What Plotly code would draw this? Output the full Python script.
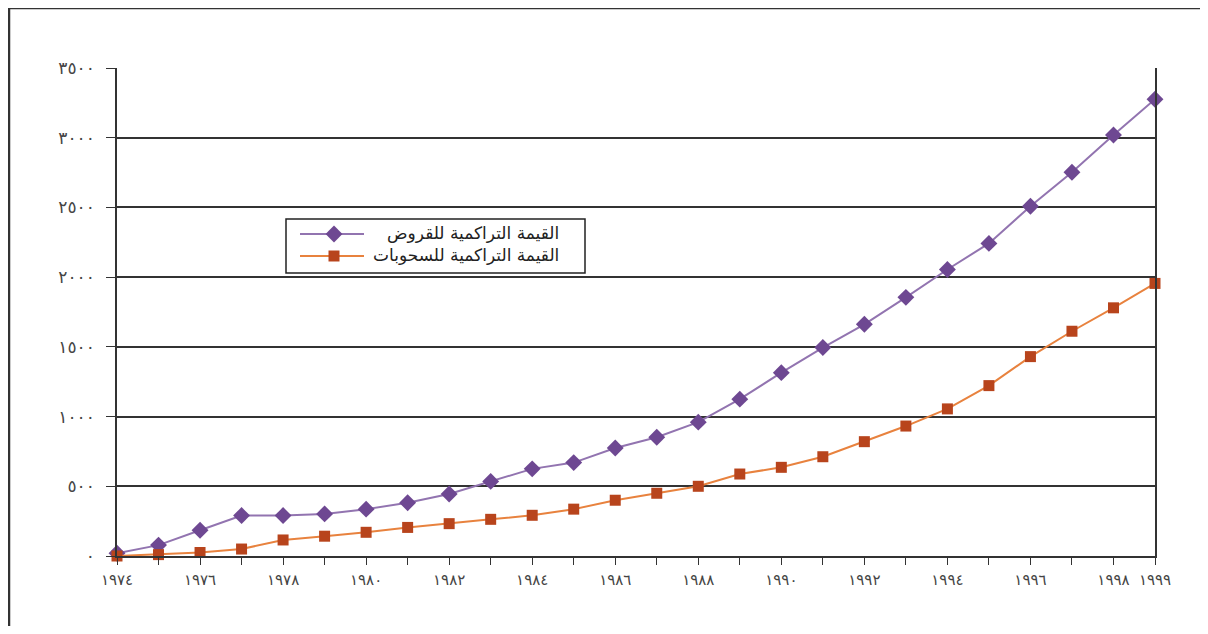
import plotly.graph_objects as go

years = list(range(1974, 2000))
loans = [20, 78, 185, 290, 290, 302, 336, 382, 445, 535, 625, 670, 775, 852,
         960, 1125, 1315, 1495, 1662, 1855, 2055, 2242, 2508, 2752, 3020, 3276]
draws = [0, 10, 25, 50, 115, 142, 170, 205, 232, 263, 292, 336, 400, 450,
         500, 588, 636, 712, 820, 932, 1055, 1222, 1430, 1612, 1780, 1955]

loans_name = "القيمة التراكمية للقروض"
draws_name = "القيمة التراكمية للسحوبات"

x_tickvals = [1974, 1976, 1978, 1980, 1982, 1984, 1986, 1988, 1990, 1992, 1994, 1996, 1998, 1999]
y_tickvals = [0, 500, 1000, 1500, 2000, 2500, 3000, 3500]

AR = str.maketrans("0123456789", "٠١٢٣٤٥٦٧٨٩")
def ar(n):
    return str(n).translate(AR)

OFF = 8                      # page body margin
W, H = 1208 - 2 * OFF, 634 - 2 * OFF
L, R, T, B = 117, 1155, 68, 556   # absolute plot-area pixels in the window

PURPLE_LINE = "#9274b0"
PURPLE_MK = "#6e4892"
ORANGE_LINE = "#e8823e"
ORANGE_MK = "#b8441c"
FONT = "DejaVu Sans"

def px(xa):
    return (xa - L) / (R - L)

def py(ya):
    return (B - ya) / (B - T)

fig = go.Figure()
fig.add_trace(go.Scatter(
    x=years, y=loans, mode="lines+markers", name=loans_name,
    line=dict(color=PURPLE_LINE, width=2),
    marker=dict(symbol="diamond", size=13, color=PURPLE_MK),
    cliponaxis=False, showlegend=False))
fig.add_trace(go.Scatter(
    x=years, y=draws, mode="lines+markers", name=draws_name,
    line=dict(color=ORANGE_LINE, width=2),
    marker=dict(symbol="square", size=11, color=ORANGE_MK),
    cliponaxis=False, showlegend=False))

# legend keys (overlay axis mapped to window pixels)
leg_keys = [
    (234, PURPLE_LINE, PURPLE_MK, "diamond", 13),
    (256, ORANGE_LINE, ORANGE_MK, "square", 11),
]
for yk, lc, mc, sym, sz in leg_keys:
    fig.add_trace(go.Scatter(
        x=[300, 364], y=[yk, yk], mode="lines",
        line=dict(color=lc, width=2),
        xaxis="x2", yaxis="y2", showlegend=False, hoverinfo="skip",
        cliponaxis=False))
    fig.add_trace(go.Scatter(
        x=[334], y=[yk], mode="markers",
        marker=dict(symbol=sym, size=sz, color=mc, opacity=1),
        xaxis="x2", yaxis="y2", showlegend=False, hoverinfo="skip",
        cliponaxis=False))

fig.update_layout(
    width=W, height=H,
    margin=dict(l=L - OFF, r=(W + OFF) - R, t=T - OFF, b=(H + OFF) - B, pad=0),
    paper_bgcolor="white", plot_bgcolor="white",
    font=dict(family=FONT, color="#333333", size=13),
    xaxis=dict(
        range=[1974, 1999], tickvals=x_tickvals,
        ticktext=[ar(v) for v in x_tickvals],
        ticks="outside", ticklen=7, tickwidth=1.4, tickcolor="#333333",
        minor=dict(dtick=1, tick0=1974, ticks="outside", ticklen=7,
                   tickwidth=1.4, tickcolor="#333333", showgrid=False),
        showgrid=False, zeroline=False,
        showline=True, linecolor="#333333", linewidth=1.6,
        tickfont=dict(size=15, color="#444444"), ticklabelstandoff=2,
    ),
    yaxis=dict(
        range=[0, 3500], tickvals=y_tickvals,
        ticktext=[ar(v) for v in y_tickvals],
        ticks="outside", ticklen=9, tickwidth=1.4, tickcolor="#333333",
        showgrid=True, gridcolor="#333333", gridwidth=1.6,
        zeroline=False,
        showline=True, mirror=True, linecolor="#333333", linewidth=1.6,
        tickfont=dict(size=17, color="#444444"), ticklabelstandoff=8,
    ),
    xaxis2=dict(overlaying="x", range=[L, R], visible=False, fixedrange=True),
    yaxis2=dict(overlaying="y", range=[B, T], visible=False, fixedrange=True),
    shapes=[
        # outer frame: left and top edges
        dict(type="line", xref="paper", yref="paper",
             x0=px(9), x1=px(9), y0=py(H + OFF), y1=py(8),
             line=dict(color="#333333", width=2.5)),
        dict(type="line", xref="paper", yref="paper",
             x0=px(9), x1=px(W + OFF), y0=py(8), y1=py(8),
             line=dict(color="#333333", width=2.5)),
        # legend box
        dict(type="rect", xref="paper", yref="paper",
             x0=px(286), x1=px(585), y0=py(273), y1=py(219),
             line=dict(color="#222222", width=1.5), fillcolor="white",
             layer="between"),
    ],
)

for yk, txt in [(233, loans_name), (255, draws_name)]:
    fig.add_annotation(
        x=px(561), y=py(yk), xref="paper", yref="paper",
        text=txt, showarrow=False, xanchor="right", yanchor="middle",
        font=dict(family=FONT, size=17, color="#222222"))

fig.write_html("out.html")
